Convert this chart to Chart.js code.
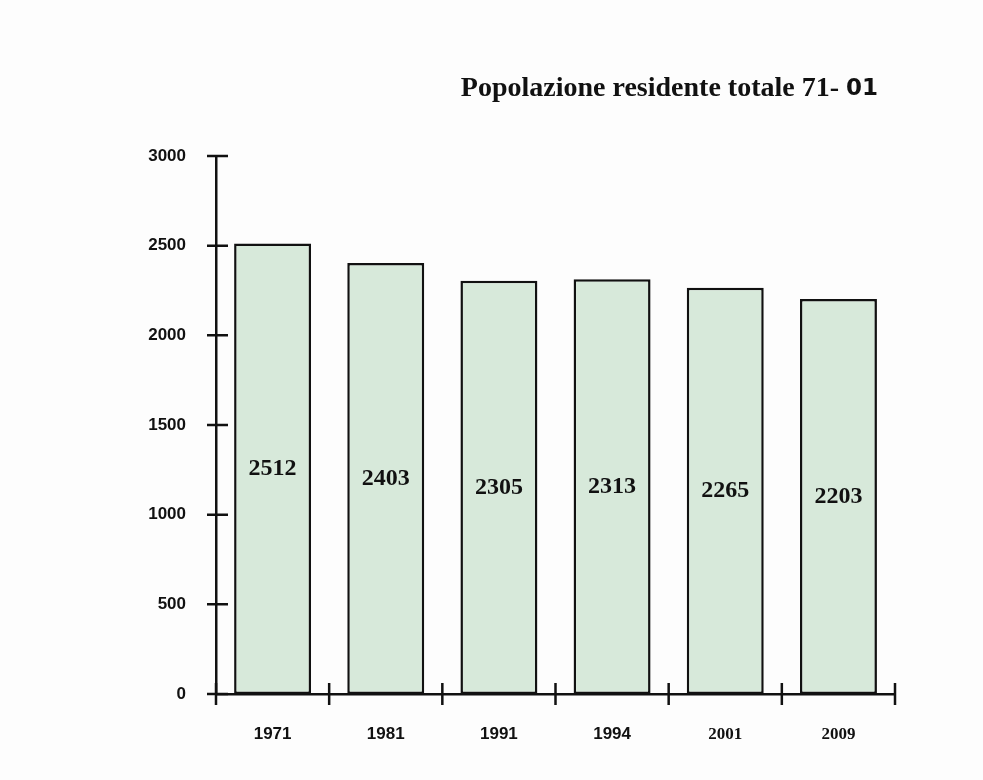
<!DOCTYPE html>
<html>
<head>
<meta charset="utf-8">
<script src="https://cdn.jsdelivr.net/npm/chart.js@4.4.1/dist/chart.umd.min.js"></script>
<style>
  html, body { margin: 0; padding: 0; background: #fdfdfd; }
  #wrap { width: 983px; height: 780px; }
</style>
</head>
<body>
<div id="wrap"><canvas id="popChart" width="983" height="780"></canvas></div>
<script>
// anni dei censimenti e popolazione residente
const anni = ['1971', '1981', '1991', '1994', '2001', '2009'];
const residenti = [2512, 2403, 2305, 2313, 2265, 2203];
const titoloTesto = 'Popolazione residente totale 71- ';
const titoloCoda = '01';

// titolo in alto a destra
const titoloPlugin = {
    id: 'titolo',
    afterDraw(chart) {
        const ctx = chart.ctx;
        const right = chart.chartArea.right - 17;
        ctx.save();
        ctx.fillStyle = '#111';
        ctx.textBaseline = 'middle';
        ctx.font = 'bold 23px "DejaVu Sans"';
        const wCoda = ctx.measureText(titoloCoda).width;
        ctx.textAlign = 'right';
        ctx.fillText(titoloCoda, right, 89);
        ctx.font = 'bold 28px "Liberation Serif"';
        ctx.fillText(titoloTesto, right - wCoda, 89);
        ctx.restore();
    }
};

// tacche degli assi che attraversano la linea, e valori dentro le barre
const tacchePlugin = {
    id: 'tacche',
    afterDraw(chart) {
        const ctx = chart.ctx;
        const x = chart.scales.x;
        const y = chart.scales.y;
        ctx.save();
        ctx.strokeStyle = '#111';
        ctx.lineWidth = 2.5;
        ctx.beginPath();
        y.ticks.forEach((t, i) => {
            const py = y.getPixelForTick(i);
            ctx.moveTo(x.left - 9, py);
            ctx.lineTo(x.left + 12, py);
        });
        for (let i = 0; i <= anni.length; i++) {
            const px = x.left + (x.right - x.left) * i / anni.length;
            ctx.moveTo(px, y.bottom - 11);
            ctx.lineTo(px, y.bottom + 11);
        }
        ctx.stroke();

        ctx.fillStyle = '#111';
        ctx.font = 'bold 24px "Liberation Serif"';
        ctx.textAlign = 'center';
        ctx.textBaseline = 'middle';
        chart.getDatasetMeta(0).data.forEach((bar, i) => {
            ctx.fillText(String(residenti[i]), bar.x, (bar.y + bar.base) / 2);
        });
        ctx.restore();
    }
};

new Chart(document.getElementById('popChart'), {
    type: 'bar',
    data: {
        labels: anni,
        datasets: [{
            data: residenti,
            backgroundColor: '#d7e9da',
            borderColor: '#111',
            borderWidth: 2.5,
            borderSkipped: false,
            categoryPercentage: 1,
            barPercentage: 0.68
        }]
    },
    options: {
        responsive: false,
        animation: false,
        layout: { padding: { top: 156, right: 88, bottom: 0, left: 0 } },
        plugins: {
            legend: { display: false },
            tooltip: { enabled: false }
        },
        scales: {
            y: {
                min: 0,
                max: 3000,
                afterFit: (s) => { s.width = 216; },
                border: { display: true, color: '#111', width: 2.5 },
                grid: { display: false },
                ticks: {
                    stepSize: 500,
                    padding: 22,
                    color: '#111',
                    callback: (v) => String(v),
                    font: { family: '"Liberation Sans"', size: 17, weight: 'bold' }
                }
            },
            x: {
                afterFit: (s) => { s.height = 86; },
                border: { display: true, color: '#111', width: 2.5 },
                grid: { display: false },
                ticks: {
                    padding: 22,
                    color: '#111',
                    font: (c) => c.index >= 4
                        ? { family: '"Liberation Serif"', size: 17, weight: 'bold' }
                        : { family: '"Liberation Sans"', size: 17, weight: 'bold' }
                }
            }
        }
    },
    plugins: [titoloPlugin, tacchePlugin]
});
</script>
</body>
</html>
